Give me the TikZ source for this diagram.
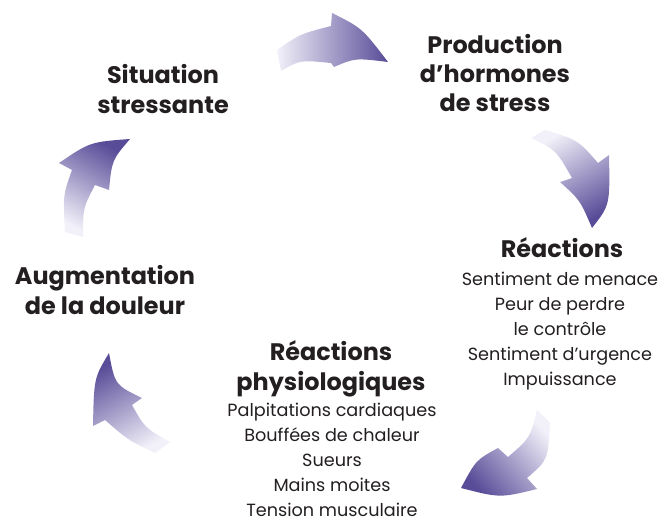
\documentclass[tikz,border=0pt]{standalone}
\usepackage{fontspec}
\setmainfont{Poppins}
\usepackage{tikz}
\usetikzlibrary{positioning}
\definecolor{arrowdark}{RGB}{88,76,152}
\definecolor{arrowlight}{RGB}{242,240,249}
\definecolor{inktext}{RGB}{35,31,32}
\tikzset{
  stage/.style={align=center,text=inktext,font=\bfseries\fontsize{24}{29.5}\selectfont,inner sep=0pt},
  effects/.style={align=center,text=inktext,font=\fontsize{17.7}{25}\selectfont,inner sep=0pt},
  swoosh/.style={top color=arrowdark,bottom color=arrowlight,draw=none}
}
\begin{document}
\begin{tikzpicture}[x=1bp,y=-1bp]
\useasboundingbox (0,0) rectangle (660,524);
% texts
\node (sit) at (163,89)[stage] {Situation\\stressante};
\node (prod) at (495,73)[stage] {Production\\d’hormones\\de stress};
\node (reac) at (562,248)[stage] {Réactions};
\node (reaclist) at (560,331)[effects] {Sentiment de menace\\Peur de perdre\\le contrôle\\Sentiment d’urgence\\Impuissance};
\node (phys) at (331,369)[stage] {Réactions\\physiologiques};
\node (physlist) at (332,460)[effects] {Palpitations cardiaques\\Bouffées de chaleur\\Sueurs\\Mains moites\\Tension musculaire};
\node (aug) at (105,290)[stage] {Augmentation\\de la douleur};
% arrows
\path[swoosh,shading angle=-90] (277,50) .. controls (300,34) .. (331,26) -- (332,13)
  .. controls (362,28) .. (388,62) .. controls (355,58) .. (334,67) -- (331,63)
  .. controls (300,60) .. (281,71) -- cycle;
\path[swoosh,shading angle=-150] (545,130) .. controls (578,140) .. (598,163) -- (609,155)
  .. controls (610,205) .. (592,228) .. controls (580,200) .. (560,182) -- (572,178)
  .. controls (556,150) .. (531,138) -- cycle;
\path[swoosh,shading angle=131] (550,423) .. controls (548,460) .. (527,478) -- (537,489)
  .. controls (500,498) .. (461,488) .. controls (476,460) .. (498,448) -- (508,457)
  .. controls (530,438) .. (537,410) -- cycle;
\path[swoosh,shading angle=29] (170,442) .. controls (145,428) .. (132,405) -- (142,398)
  .. controls (115,385) .. (109,353) .. controls (94,378) .. (93,426) -- (105,420)
  .. controls (128,440) .. (155,453) -- cycle;
\path[swoosh,shading angle=-30] (65,232) .. controls (63,195) .. (72,170) -- (59,163)
  .. controls (90,142) .. (130,139) .. controls (112,160) .. (109,190) -- (95,185)
  .. controls (83,208) .. (83,237) -- cycle;
\end{tikzpicture}
\end{document}
